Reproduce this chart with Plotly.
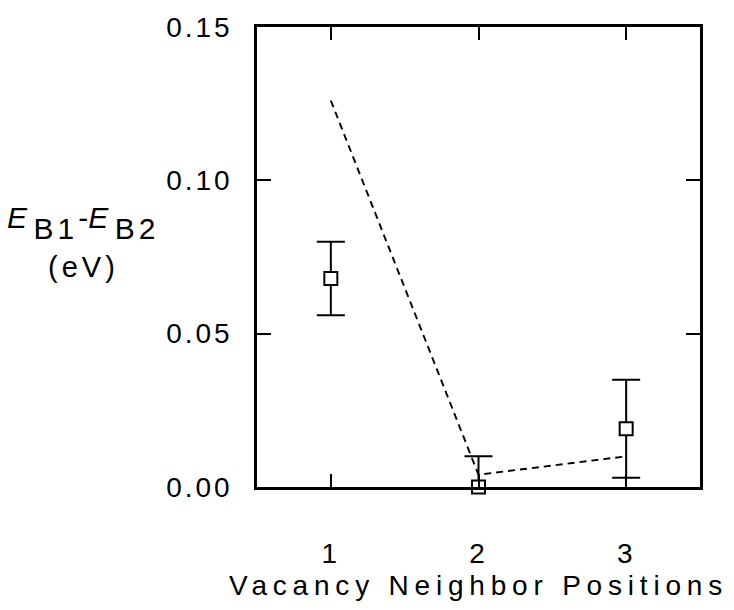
import plotly.graph_objects as go

positions = [1, 2, 3]
delta_e = [0.068, 0.000, 0.019]
delta_err = [0.012, 0.010, 0.016]
calc_x = [1, 2, 3]
calc_e = [0.126, 0.004, 0.010]
x_ticks = [1, 2, 3]
y_ticks = [0.00, 0.05, 0.10, 0.15]
y_tick_labels = ["0.00", "0.05", "0.10", "0.15"]
x_title = "Vacancy Neighbor Positions"

FONT = "Liberation Sans, Arial, sans-serif"

def spaced(t, px):
    return f'<span style="letter-spacing:{px}px">{t}</span>'

fig = go.Figure()
fig.add_trace(go.Scatter(
    x=calc_x, y=calc_e, mode="lines",
    line=dict(color="black", width=1.9, dash="7px,5px"),
    showlegend=False, hoverinfo="skip"))
fig.add_trace(go.Scatter(
    x=positions, y=delta_e, mode="markers",
    marker=dict(symbol="square", size=13, color="white",
                line=dict(color="black", width=2)),
    error_y=dict(type="data", array=delta_err, visible=True,
                 color="black", thickness=2, width=14),
    showlegend=False, cliponaxis=False))

fig.update_layout(
    width=734, height=610,
    margin=dict(l=257, r=34, t=24, b=123, pad=0),
    plot_bgcolor="white", paper_bgcolor="white",
    font=dict(family=FONT, color="black", size=28),
    xaxis=dict(range=[0.5, 3.5], tickvals=x_ticks,
               ticktext=[spaced(str(v), 3) for v in x_ticks],
               ticks="inside", ticklen=13, tickwidth=2, tickcolor="black",
               showline=True, linecolor="black", linewidth=2.5, mirror="ticks",
               showgrid=False, zeroline=False, ticklabelstandoff=40,
               tickfont=dict(size=28),
               title=dict(text=spaced(x_title, 5.8), font=dict(size=28), standoff=8)),
    yaxis=dict(range=[0, 0.15], tickvals=y_ticks,
               ticktext=[spaced(t, 3) for t in y_tick_labels],
               ticks="inside", ticklen=14, tickwidth=2, tickcolor="black",
               showline=True, linecolor="black", linewidth=2.5, mirror="ticks",
               showgrid=False, zeroline=False, ticklabelstandoff=16,
               tickfont=dict(size=28)),
)

sub_style = "baseline-shift:-11px;letter-spacing:4px"
fig.add_annotation(
    xref="paper", yref="paper", x=-0.392, y=0.575, xanchor="center", yanchor="middle",
    text=(f'<i>E</i><span style="{sub_style}">&#8202;B1</span>'
          f'-<i>E</i><span style="{sub_style}">&#8202;B2</span>'),
    showarrow=False, font=dict(size=30), align="center")
fig.add_annotation(
    xref="paper", yref="paper", x=-0.392, y=0.478, xanchor="center", yanchor="middle",
    text=spaced("(eV)", 4),
    showarrow=False, font=dict(size=29), align="center")

fig.write_html("out.html")
